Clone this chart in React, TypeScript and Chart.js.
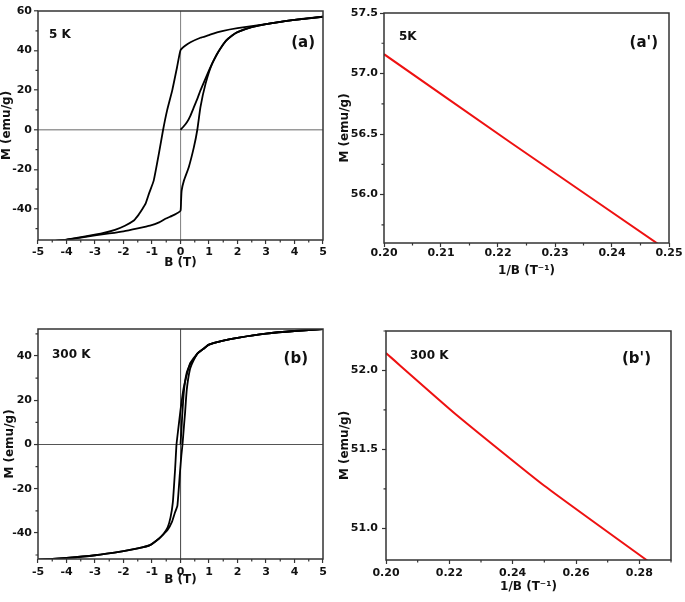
import React, { useEffect, useRef } from 'react';
import { Chart, registerables } from 'chart.js';

Chart.register(...registerables);

const FONT = "'DejaVu Sans', 'Liberation Sans', sans-serif";
const AXIS_COLOR = '#333333';
const TEXT_COLOR = '#111111';

// ---------- 5 K hysteresis loop (panel a) ----------
const B5_virgin = [0, 0.1, 0.23, 0.35, 0.47, 0.6, 0.7, 0.85, 1.0, 1.15, 1.29, 1.4, 1.6, 1.8, 2.0, 2.5, 3.0, 4.0, 5.0];
const M5_virgin = [0, 1.5, 3.9, 7.2, 11.4, 16, 19.9, 25, 30, 34.5, 38.5, 41, 45, 47.5, 49.3, 51.8, 53.4, 55.5, 57.1];

const B5_down = [5, 4.5, 4, 3, 2.5, 2, 1.5, 1.28, 1, 0.7, 0.35, 0.15, 0, -0.12, -0.29, -0.47, -0.61, -0.76, -0.94, -1.1, -1.23, -1.36, -1.5, -1.65, -1.95, -2.3, -2.8, -3.3, -4, -5];
const M5_down = [57.1, 56.4, 55.5, 53.4, 52.4, 51.3, 50.0, 49.2, 47.8, 46.5, 44.2, 42.3, 40.2, 31.7, 19.9, 9.8, 0, -12.2, -25.7, -32, -37.5, -40.5, -43.5, -46, -48.5, -50.6, -52.5, -53.8, -55.5, -57.1];

const B5_up = [-5, -4, -3, -2.5, -2, -1.5, -1.07, -0.75, -0.53, -0.3, -0.15, 0, 0.02, 0.04, 0.12, 0.29, 0.47, 0.59, 0.7, 0.88, 1.11, 1.4, 1.6, 1.8, 2.0, 2.5, 3, 4, 5];
const M5_up = [-57.1, -55.5, -53.4, -52.4, -51.3, -49.8, -48.4, -46.8, -45.0, -43.5, -42.4, -40.9, -36, -30.7, -25.7, -18.9, -8.8, 0, 11.4, 23.3, 33.4, 41, 45, 47.5, 49.3, 51.8, 53.4, 55.5, 57.1];

// ---------- 300 K hysteresis loop (panel b) ----------
const B300_virgin = [0, 0.03, 0.06, 0.1, 0.15, 0.22, 0.33, 0.45, 0.6, 0.8, 1, 1.5, 2, 3, 4, 5];
const M300_virgin = [0, 6, 13, 21, 27.5, 32.5, 36, 38.3, 41.2, 43.2, 45.1, 46.9, 48.2, 50.1, 51.3, 52.1];

const B300_down = [5, 4, 3, 2, 1.5, 1, 0.8, 0.6, 0.45, 0.33, 0.22, 0.1, 0, -0.08, -0.14, -0.19, -0.27, -0.35, -0.45, -0.6, -0.75, -1.07, -1.5, -2, -3, -4, -5];
const M300_down = [52.1, 51.3, 50.1, 48.2, 46.9, 45.1, 43.2, 41.2, 38.8, 36.5, 31.5, 24.8, 15.5, 6.8, 0, -11.3, -26.3, -33, -37.5, -40.5, -42.5, -45.5, -47, -48.2, -50.1, -51.3, -52.1];

const B300_up = [-5, -4, -3, -2, -1.5, -1.07, -0.75, -0.6, -0.45, -0.3, -0.2, -0.11, -0.02, 0.03, 0.07, 0.12, 0.16, 0.22, 0.33, 0.45, 0.6, 0.8, 1, 1.5, 2, 3, 4, 5];
const M300_up = [-52.1, -51.3, -50.1, -48.2, -47, -45.5, -42.5, -40.7, -38.6, -35, -31, -27.8, -12.8, -5, 0, 8, 14.3, 24.8, 33.9, 37.8, 41.2, 43.2, 45.1, 46.9, 48.2, 50.1, 51.3, 52.1];

// ---------- high-field M vs 1/B (panels a', b') ----------
const invB_5K = [0.2, 0.2222, 0.25];
const M_5K = [57.16, 56.43, 55.53];

const invB_300K = [0.2, 0.2222, 0.25, 0.2857];
const M_300K = [52.11, 51.72, 51.27, 50.75];

// ---------- ticks ----------
const B_TICKS = [-5, -4, -3, -2, -1, 0, 1, 2, 3, 4, 5];
const B_MINOR = [-4.5, -3.5, -2.5, -1.5, -0.5, 0.5, 1.5, 2.5, 3.5, 4.5];
const A_Y_TICKS = [-40, -20, 0, 20, 40, 60];
const A_Y_MINOR = [-50, -30, -10, 10, 30, 50];
const B_Y_TICKS = [-40, -20, 0, 20, 40];
const B_Y_MINOR = [-50, -30, -10, 10, 30, 50];
const AP_X_TICKS = [0.2, 0.21, 0.22, 0.23, 0.24, 0.25];
const AP_X_MINOR = [0.205, 0.215, 0.225, 0.235, 0.245];
const AP_Y_TICKS = [56.0, 56.5, 57.0, 57.5];
const AP_Y_MINOR = [55.75, 56.25, 56.75, 57.25];
const BP_X_TICKS = [0.2, 0.22, 0.24, 0.26, 0.28];
const BP_X_MINOR = [0.21, 0.23, 0.25, 0.27, 0.29];
const BP_Y_TICKS = [51.0, 51.5, 52.0];
const BP_Y_MINOR = [51.25, 51.75, 52.25];

const BLACK = '#000000';
const RED = '#ee1111';

const zip = (xs: number[], ys: number[]) => xs.map((x, i) => ({ x, y: ys[i] }));

const panels = [
  {
    key: 'a', box: { left: 0, top: 0, w: 345, h: 280 }, pad: { top: 11, right: 22 }, yW: 38, xH: 40,
    x: { min: -5, max: 5, ticks: B_TICKS, minor: B_MINOR, dec: 0, title: 'B (T)', titlePad: 10, tickPad: 2 },
    y: { min: -55.7, max: 60, ticks: A_Y_TICKS, minor: A_Y_MINOR, dec: 0, title: 'M (emu/g)', titlePad: 0, tickPad: 2 },
    zero: { h: '#9a9a9a', hw: 1.6, v: '#8a8a8a', vw: 1.1 },
    series: [
      { xs: B5_virgin, ys: M5_virgin, color: BLACK },
      { xs: B5_down, ys: M5_down, color: BLACK },
      { xs: B5_up, ys: M5_up, color: BLACK },
    ],
    temp: '5 K', tempPos: [11, 24], label: '(a)', labelPos: [8, 32],
  },
  {
    key: 'ap', box: { left: 335, top: 0, w: 350, h: 280 }, pad: { top: 13, right: 16 }, yW: 49, xH: 37,
    x: { min: 0.2, max: 0.25, ticks: AP_X_TICKS, minor: AP_X_MINOR, dec: 2, title: '1/B (T\u207B\u00B9)', titlePad: 2, tickPad: 0 },
    y: { min: 55.6, max: 57.5, ticks: AP_Y_TICKS, minor: AP_Y_MINOR, dec: 1, title: 'M (emu/g)', titlePad: 3, tickPad: 2 },
    zero: null,
    series: [{ xs: invB_5K, ys: M_5K, color: RED }],
    temp: '5K', tempPos: [15, 24], label: "(a')", labelPos: [11, 30],
  },
  {
    key: 'b', box: { left: 0, top: 290, w: 345, h: 312 }, pad: { top: 39, right: 22 }, yW: 38, xH: 43,
    x: { min: -5, max: 5, ticks: B_TICKS, minor: B_MINOR, dec: 0, title: 'B (T)', titlePad: 15, tickPad: 3 },
    y: { min: -51.8, max: 52.2, ticks: B_Y_TICKS, minor: B_Y_MINOR, dec: 0, title: 'M (emu/g)', titlePad: 3, tickPad: 2 },
    zero: { h: '#555555', hw: 1.1, v: '#555555', vw: 1.1 },
    series: [
      { xs: B300_virgin, ys: M300_virgin, color: BLACK },
      { xs: B300_down, ys: M300_down, color: BLACK },
      { xs: B300_up, ys: M300_up, color: BLACK },
    ],
    temp: '300 K', tempPos: [14, 26], label: '(b)', labelPos: [15, 30],
  },
  {
    key: 'bp', box: { left: 335, top: 290, w: 350, h: 312 }, pad: { top: 41, right: 14 }, yW: 51, xH: 42,
    x: { min: 0.2, max: 0.29, ticks: BP_X_TICKS, minor: BP_X_MINOR, dec: 2, title: '1/B (T\u207B\u00B9)', titlePad: 8, tickPad: 3 },
    y: { min: 50.8, max: 52.25, ticks: BP_Y_TICKS, minor: BP_Y_MINOR, dec: 1, title: 'M (emu/g)', titlePad: 3, tickPad: 4 },
    zero: null,
    series: [{ xs: invB_300K, ys: M_300K, color: RED }],
    temp: '300 K', tempPos: [24, 25], label: "(b')", labelPos: [20, 28],
  },
];

function makeConfig(p: any) {
  const decor = {
    id: 'decor_' + p.key,
    afterDatasetsDraw(chart: any) {
      const { ctx, chartArea, scales } = chart;
      const { left, right, top, bottom } = chartArea;
      ctx.save();
      ctx.strokeStyle = AXIS_COLOR;
      ctx.lineWidth = 1.2;
      ctx.beginPath();
      for (const v of p.x.minor) {
        const px = scales.x.getPixelForValue(v);
        ctx.moveTo(px, bottom);
        ctx.lineTo(px, bottom + 2.5);
      }
      for (const v of p.y.minor) {
        if (v < p.y.min || v > p.y.max) continue;
        const py = scales.y.getPixelForValue(v);
        ctx.moveTo(left, py);
        ctx.lineTo(left - 2.5, py);
      }
      ctx.stroke();
      ctx.lineWidth = 1.5;
      ctx.strokeRect(left, top, right - left, bottom - top);
      ctx.fillStyle = TEXT_COLOR;
      ctx.textBaseline = 'middle';
      ctx.font = `bold 12px ${FONT}`;
      ctx.textAlign = 'left';
      ctx.fillText(p.temp, left + p.tempPos[0], top + p.tempPos[1]);
      ctx.font = `bold 15px ${FONT}`;
      ctx.textAlign = 'right';
      ctx.fillText(p.label, right - p.labelPos[0], top + p.labelPos[1]);
      ctx.restore();
    },
  };

  const axis = (a: any, horizontal: boolean, zeroColor: string | null, zeroWidth: number) => ({
    type: 'linear',
    position: horizontal ? 'bottom' : 'left',
    min: a.min,
    max: a.max,
    afterBuildTicks: (s: any) => {
      s.ticks = a.ticks.map((v: number) => ({ value: v }));
    },
    afterFit: (s: any) => {
      if (horizontal) s.height = p.xH;
      else s.width = p.yW;
    },
    ticks: {
      autoSkip: false,
      maxRotation: 0,
      minRotation: 0,
      padding: a.tickPad,
      color: TEXT_COLOR,
      font: { family: FONT, size: 11, weight: 'bold' },
      callback: (v: any) => Number(v).toFixed(a.dec),
    },
    grid: {
      display: true,
      drawOnChartArea: !!zeroColor,
      drawTicks: true,
      tickLength: 4,
      tickWidth: 1.2,
      tickColor: AXIS_COLOR,
      color: (c: any) => (zeroColor && c.tick && c.tick.value === 0 ? zeroColor : 'rgba(0,0,0,0)'),
      lineWidth: zeroWidth,
    },
    border: { display: false },
    title: {
      display: true,
      text: a.title,
      color: TEXT_COLOR,
      font: { family: FONT, size: 12, weight: 'bold' },
      padding: horizontal ? { top: 0, bottom: a.titlePad } : { top: a.titlePad, bottom: 0 },
    },
  });

  return {
    type: 'scatter',
    data: {
      datasets: p.series.map((s: any) => ({
        data: zip(s.xs, s.ys),
        showLine: true,
        borderColor: s.color,
        backgroundColor: s.color,
        borderWidth: s.color === RED ? 2 : 1.8,
        pointRadius: 0,
        tension: 0.15,
        fill: false,
        clip: 0,
      })),
    },
    options: {
      animation: false,
      responsive: false,
      maintainAspectRatio: false,
      events: [],
      layout: { padding: { left: 0, top: p.pad.top, right: p.pad.right, bottom: 0 } },
      plugins: { legend: { display: false }, tooltip: { enabled: false }, title: { display: false } },
      scales: {
        x: axis(p.x, true, p.zero ? p.zero.v : null, p.zero ? p.zero.vw : 1),
        y: axis(p.y, false, p.zero ? p.zero.h : null, p.zero ? p.zero.hw : 1),
      },
    },
    plugins: [decor],
  };
}

function Panel({ p }: { p: any }) {
  const ref = useRef<HTMLCanvasElement>(null);
  useEffect(() => {
    if (!ref.current) return;
    const chart = new Chart(ref.current, makeConfig(p) as any);
    return () => chart.destroy();
  }, [p]);
  return (
    <canvas
      ref={ref}
      width={p.box.w}
      height={p.box.h}
      style={{ position: 'absolute', left: p.box.left, top: p.box.top, width: p.box.w, height: p.box.h }}
    />
  );
}

export default function App() {
  return (
    <div style={{ position: 'fixed', left: 0, top: 0, width: 685, height: 602, background: '#ffffff', overflow: 'hidden' }}>
      {panels.map((p) => (
        <Panel key={p.key} p={p} />
      ))}
    </div>
  );
}
